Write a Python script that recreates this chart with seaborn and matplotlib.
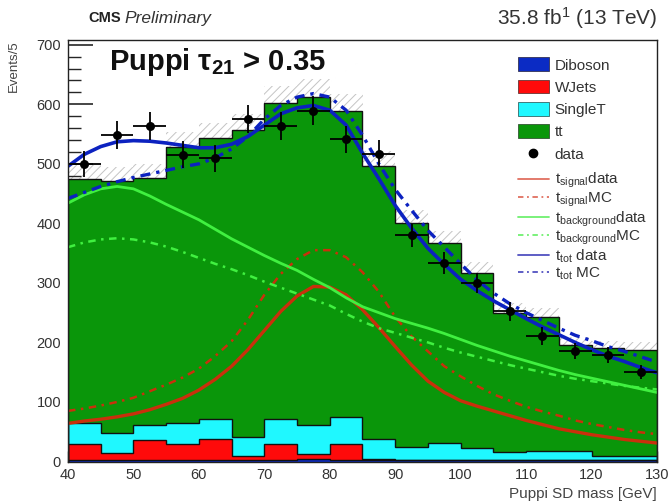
import numpy as np
import matplotlib
matplotlib.use("Agg")
import matplotlib.pyplot as plt
import seaborn as sns
from matplotlib.patches import Patch
from matplotlib.lines import Line2D
from matplotlib.ticker import MultipleLocator

# ---------------- binned content (5 GeV bins) ----------------
bin_edges = [40, 45, 50, 55, 60, 65, 70, 75, 80, 85, 90, 95, 100, 105, 110, 115, 120, 125, 130]
bin_centers = [42.5, 47.5, 52.5, 57.5, 62.5, 67.5, 72.5, 77.5, 82.5, 87.5,
               92.5, 97.5, 102.5, 107.5, 112.5, 117.5, 122.5, 127.5]
diboson = [3, 3, 3, 3, 3, 3, 3, 4, 3, 3, 2, 2, 2, 2, 2, 2, 2, 2]
wjets = [26, 12, 33, 27, 35, 6, 26, 8.5, 26, 1, 1, 1, 1, 1, 1, 1, 1, 1]
single_top = [35, 33, 26, 35, 34, 32, 43, 49.5, 45, 34, 22, 28, 19, 13, 15, 15, 6, 6]
ttbar = [410, 423, 414.5, 463, 471, 515, 531, 551, 515, 458, 375, 336, 294, 234, 224, 178, 181, 179]
mc_unc = [24, 24, 24, 26, 26, 27, 28, 29, 28, 26, 22, 21, 19, 16, 15, 13, 13, 13]
data_counts = [500, 548, 563, 515, 509, 575, 563, 589, 541, 517,
               380, 333, 300, 252, 211, 185, 179, 150]

# ---------------- fit curves ----------------
curve_mass = [40, 42.5, 45, 47.5, 50, 52.5, 55, 57.5, 60, 62.5, 65, 67.5, 70, 72.5,
              75, 77.5, 80, 82.5, 85, 87.5, 90, 92.5, 95, 97.5, 100, 102.5, 105,
              107.5, 110, 112.5, 115, 117.5, 120, 122.5, 125, 127.5, 130]
sig_data = [64, 68, 71, 75, 80, 87, 96, 106, 120, 138, 160, 188, 220, 252, 278, 294,
            293, 280, 255, 225, 193, 162, 135, 116, 102, 93, 85, 77, 69, 62, 55, 50,
            45, 41, 37, 34, 31]
sig_mc = [85, 89, 94, 100, 107, 118, 129, 141, 156, 177, 202, 238, 280, 315, 340, 355,
          355, 343, 318, 285, 243, 210, 185, 160, 143, 127, 113, 102, 92, 84, 77, 69,
          63, 58, 53, 49, 46]
bkg_data = [434, 448, 458, 462, 458, 446, 432, 419, 406, 390, 374, 360, 346, 333, 321,
            306, 292, 275, 260, 250, 240, 232, 224, 215, 205, 195, 186, 177, 169, 161,
            153, 146, 140, 134, 128, 122, 116]
bkg_mc = [360, 368, 373, 375, 373, 368, 361, 352, 342, 332, 323, 313, 302, 292, 282,
          272, 262, 248, 235, 224, 216, 208, 200, 191, 183, 176, 169, 162, 156, 150,
          144, 139, 135, 131, 127, 124, 121]
tot_data = [496, 516, 529, 537, 539, 538, 535, 531, 527, 527, 533, 546, 565, 584, 594,
            598, 590, 565, 518, 475, 430, 392, 358, 331, 306, 287, 270, 255, 240, 226,
            213, 200, 188, 177, 168, 158, 149]
tot_mc = [442, 452, 462, 470, 477, 483, 489, 495, 500, 510, 525, 546, 575, 598, 612,
          618, 612, 590, 548, 500, 457, 422, 388, 360, 332, 305, 283, 265, 250, 237,
          224, 212, 203, 193, 185, 176, 167]

# ---------------- style ----------------
sns.set_style("ticks")
plt.rcParams["font.family"] = ["Liberation Sans", "DejaVu Sans"]
plt.rcParams["mathtext.fontset"] = "custom"
plt.rcParams["mathtext.rm"] = "Liberation Sans"
plt.rcParams["mathtext.it"] = "Liberation Sans:italic"
plt.rcParams["mathtext.bf"] = "Liberation Sans:bold"
plt.rcParams["hatch.linewidth"] = 0.7
plt.rcParams["hatch.color"] = "#c4c4c4"

C_DIB = "#0b2bc4"
C_WJ = "#ff0a0a"
C_ST = "#1ff8ff"
C_TT = "#0a960a"
C_RED = "#c9300c"
C_GRN = "#40f040"
C_BLU = "#0c22c0"

fig = plt.figure(figsize=(6.71, 5.04), dpi=100)
ax = fig.add_axes([68 / 671, 1 - 461.5 / 504, 589 / 671, 421.5 / 504])

edges = np.array(bin_edges)
centers = np.array(bin_centers)
width = np.diff(edges)

# stacked backgrounds, bottom to top
stack = [("Diboson", diboson, C_DIB), ("WJets", wjets, C_WJ),
         ("SingleT", single_top, C_ST), ("tt", ttbar, C_TT)]
bottom = np.zeros(len(centers))
for name, vals, col in stack:
    vals = np.array(vals, dtype=float)
    ax.bar(edges[:-1], vals, width=width, bottom=bottom, align="edge",
           color=col, edgecolor="none", linewidth=0, zorder=1)
    bottom = bottom + vals
    ax.stairs(bottom, edges, color="#111111", linewidth=1.0, zorder=1.2)
total = bottom

# MC uncertainty band (hatched), behind the stack
unc = np.array(mc_unc, dtype=float)
ax.bar(edges[:-1], 2 * unc, width=width, bottom=total - unc, align="edge",
       fill=False, hatch="////", edgecolor="#c4c4c4", linewidth=0, zorder=0.5)

# fit curves
curve_specs = [
    (sig_mc, C_RED, (0, (3, 2.2, 1, 2.2)), 1.8),
    (sig_data, C_RED, "-", 2.4),
    (bkg_mc, C_GRN, (0, (3, 2.2, 1, 2.2)), 1.8),
    (bkg_data, C_GRN, "-", 2.0),
    (tot_mc, C_BLU, (0, (3, 1.8, 1, 1.8)), 2.4),
    (tot_data, C_BLU, "-", 2.6),
]
for vals, col, ls, lw in curve_specs:
    sns.lineplot(x=curve_mass, y=vals, ax=ax, color=col, linestyle=ls,
                 linewidth=lw, zorder=3, sort=False)

# data points with Poisson errors
dvals = np.array(data_counts, dtype=float)
ax.errorbar(centers, dvals, yerr=np.sqrt(dvals), xerr=width / 2, fmt="none",
            ecolor="black", elinewidth=1.3, capsize=0, zorder=4)
sns.scatterplot(x=bin_centers, y=data_counts, ax=ax, color="black", s=42,
                edgecolor="black", linewidth=0, zorder=5)

# axes
ax.set_xlim(40, 130)
ax.set_ylim(0, 708)
ax.xaxis.set_major_locator(MultipleLocator(10))
ax.xaxis.set_minor_locator(MultipleLocator(1.25))
ax.yaxis.set_major_locator(MultipleLocator(100))
ax.yaxis.set_minor_locator(MultipleLocator(20))
ax.tick_params(axis="y", which="major", direction="in", length=18, width=1.2,
               labelsize=10.5, labelcolor="#333333", pad=5, right=False)
ax.tick_params(axis="y", which="minor", direction="in", length=9, width=1.0, right=False)
ax.tick_params(axis="x", which="major", direction="in", length=8, width=1.0,
               labelsize=10.5, labelcolor="#333333", pad=5, top=False)
ax.tick_params(axis="x", which="minor", direction="in", length=4, width=0.8, top=False)
for s in ax.spines.values():
    s.set_linewidth(1.0)
    s.set_color("#222222")
    s.set_zorder(6)
ax.set_xlabel("Puppi SD mass [GeV]", fontsize=11, color="#444444", loc="right",
              labelpad=3)
ax.set_ylabel("Events/5", fontsize=9.5, color="#444444", loc="top", labelpad=12)

# legend: templates and data
leg1_handles = [
    Patch(facecolor=C_DIB, edgecolor="#335", linewidth=0.6),
    Patch(facecolor=C_WJ, edgecolor="#633", linewidth=0.6),
    Patch(facecolor=C_ST, edgecolor="#366", linewidth=0.6),
    Patch(facecolor=C_TT, edgecolor="#353", linewidth=0.6),
    Line2D([], [], marker="o", color="black", linestyle="none", markersize=6),
]
leg1 = ax.legend(leg1_handles, ["Diboson", "WJets", "SingleT", "tt", "data"],
                 loc="upper left", bbox_to_anchor=((518 - 68) / 589, (461.5 - 57.5) / 421.5),
                 frameon=False, fontsize=11, handlelength=2.0, handleheight=1.0,
                 labelspacing=0.47, handletextpad=0.4, borderpad=0, borderaxespad=0)
for t in leg1.get_texts():
    t.set_color("#333333")
ax.add_artist(leg1)

# legend: fit functions
leg2_handles = [
    Line2D([], [], color="#e07060", linewidth=1.3),
    Line2D([], [], color="#e07060", linewidth=1.3, linestyle=(0, (3, 2, 1, 2))),
    Line2D([], [], color="#70f070", linewidth=1.3),
    Line2D([], [], color="#70f070", linewidth=1.3, linestyle=(0, (3, 2, 1, 2))),
    Line2D([], [], color="#5050c0", linewidth=1.3),
    Line2D([], [], color="#5050c0", linewidth=1.3, linestyle=(0, (3, 2, 1, 2))),
]
leg2_labels = [r"t$_{\mathrm{signal}}$data", r"t$_{\mathrm{signal}}$MC",
               r"t$_{\mathrm{background}}$data", r"t$_{\mathrm{background}}$MC",
               r"t$_{\mathrm{tot}}$ data", r"t$_{\mathrm{tot}}$ MC"]
leg2 = ax.legend(leg2_handles, leg2_labels, loc="upper left",
                 bbox_to_anchor=((518 - 68) / 589, (461.5 - 171) / 421.5),
                 frameon=False, fontsize=11, handlelength=2.0, handleheight=0.7,
                 labelspacing=0.02, handletextpad=0.4, borderpad=0, borderaxespad=0)
for t in leg2.get_texts():
    t.set_color("#333333")

# labels on the frame
ax.text(0.069, 0.986, r"Puppi τ$_{\mathbf{21}}$ > 0.35", transform=ax.transAxes,
        fontsize=21, fontweight="bold", ha="left", va="top", color="#111111", zorder=7)
fig.text(88 / 671, 1 - 18 / 504, "CMS", fontsize=10.5, fontweight="bold",
         ha="left", va="center", color="#222222")
fig.text(124 / 671, 1 - 18 / 504, "Preliminary", fontsize=12.5, fontstyle="italic",
         ha="left", va="center", color="#333333")
fig.text(657 / 671, 1 - 18 / 504, r"35.8 fb$^{1}$ (13 TeV)", fontsize=15,
         ha="right", va="center", color="#333333")

fig.savefig("out.png", dpi=100)
